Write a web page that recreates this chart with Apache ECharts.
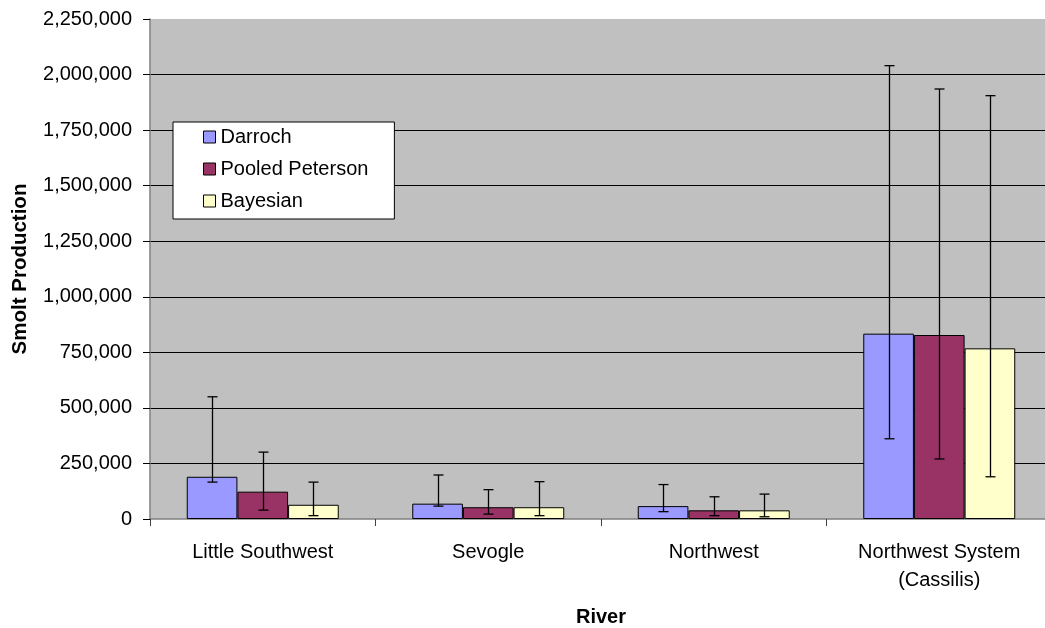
<!DOCTYPE html>
<html>
<head>
<meta charset="utf-8">
<script src="https://cdn.jsdelivr.net/npm/echarts@6/dist/echarts.min.js"></script>
<style>
html,body{margin:0;padding:0;background:#fff;}
#chart{width:1045px;height:628px;}
</style>
</head>
<body>
<div id="chart"></div>
<script>
var categories = ['Little Southwest', 'Sevogle', 'Northwest', 'Northwest System\n(Cassilis)'];
var seriesNames = ['Darroch', 'Pooled Peterson', 'Bayesian'];
var darroch = [190000, 69000, 58000, 834000];
var darrochLow = [166000, 58000, 33000, 361000];
var darrochHigh = [550000, 198000, 155000, 2040000];
var pooled = [123000, 53000, 39000, 828000];
var pooledLow = [40000, 22000, 15000, 270000];
var pooledHigh = [301000, 132000, 100000, 1935000];
var bayesian = [64000, 53000, 39000, 768000];
var bayesianLow = [15000, 15000, 10000, 190000];
var bayesianHigh = [166000, 168000, 112000, 1905000];
var colors = ['#9999FF', '#993366', '#FFFFCC'];

var values = [darroch, pooled, bayesian];
var lows = [darrochLow, pooledLow, bayesianLow];
var highs = [darrochHigh, pooledHigh, bayesianHigh];
var catGap = 0.326;

var FONT = '"Liberation Sans", Arial, sans-serif';
var chart = echarts.init(document.getElementById('chart'));

function fmt(v) {
  return String(v).replace(/\B(?=(\d{3})+(?!\d))/g, ',');
}

var series = [];
values.forEach(function (vals, i) {
  series.push({
    name: seriesNames[i],
    type: 'bar',
    data: vals,
    barGap: '0%',
    barCategoryGap: (catGap * 100) + '%',
    itemStyle: { color: colors[i], borderColor: '#000', borderWidth: 1 },
    emphasis: { disabled: true },
    z: 2
  });
});
values.forEach(function (vals, i) {
  var data = categories.map(function (c, k) { return [k, lows[i][k], highs[i][k]]; });
  series.push({
    type: 'custom',
    data: data,
    z: 5,
    silent: true,
    renderItem: function (params, api) {
      var k = api.value(0);
      var catW = api.size([1, 0])[0];
      var barW = catW * (1 - catGap) / 3;
      var off = (i - 1) * barW;
      var lo = api.coord([k, api.value(1)]);
      var hi = api.coord([k, api.value(2)]);
      var x = Math.round(lo[0] + off) + 0.5;
      var cap = 5;
      var st = { stroke: '#000', lineWidth: 1.3 };
      return {
        type: 'group',
        children: [
          { type: 'line', shape: { x1: x, y1: lo[1], x2: x, y2: hi[1] }, style: st },
          { type: 'line', shape: { x1: x - cap, y1: hi[1], x2: x + cap, y2: hi[1] }, style: st },
          { type: 'line', shape: { x1: x - cap, y1: lo[1], x2: x + cap, y2: lo[1] }, style: st }
        ]
      };
    }
  });
});

chart.setOption({
  animation: false,
  textStyle: { fontFamily: FONT },
  grid: {
    left: 150, top: 19, width: 902, height: 500,
    outerBoundsMode: 'none',
    containLabel: false,
    show: true, backgroundColor: '#C0C0C0', borderWidth: 0
  },
  legend: {
    data: seriesNames,
    orient: 'vertical',
    left: 173, top: 122,
    backgroundColor: '#fff',
    borderColor: '#000', borderWidth: 1,
    padding: [5, 26, 8, 30],
    itemGap: 12,
    itemWidth: 12, itemHeight: 12,
    icon: 'rect',
    itemStyle: { borderColor: '#000', borderWidth: 1 },
    textStyle: { fontSize: 20, color: '#000', fontFamily: FONT, lineHeight: 20, padding: [0, 0, 0, 0] },
    selectedMode: false
  },
  xAxis: {
    type: 'category',
    data: categories,
    name: 'River',
    nameLocation: 'middle',
    nameGap: 88,
    nameTextStyle: { fontSize: 20, fontWeight: 'bold', color: '#000', fontFamily: FONT },
    axisLine: { show: true, lineStyle: { color: '#808080', width: 1.5 } },
    axisTick: { show: true, length: 7, lineStyle: { color: '#404040' } },
    axisLabel: { fontSize: 20, color: '#000', margin: 19, lineHeight: 28, fontFamily: FONT, interval: 0 }
  },
  yAxis: {
    type: 'value',
    min: 0, max: 2250000, interval: 250000,
    name: 'Smolt Production',
    nameLocation: 'middle',
    nameRotate: 90,
    nameGap: 119,
    nameTextStyle: { fontSize: 20.5, fontWeight: 'bold', color: '#000', fontFamily: FONT },
    axisLine: { show: true, lineStyle: { color: '#808080', width: 1.5 } },
    axisTick: { show: true, length: 7, lineStyle: { color: '#000' } },
    axisLabel: { fontSize: 20, color: '#000', margin: 18, fontFamily: FONT, formatter: function (v) { return fmt(v); } },
    splitLine: { show: true, showMaxLine: false, showMinLine: false, lineStyle: { color: '#000', width: 1 } }
  },
  series: series
});
</script>
</body>
</html>
